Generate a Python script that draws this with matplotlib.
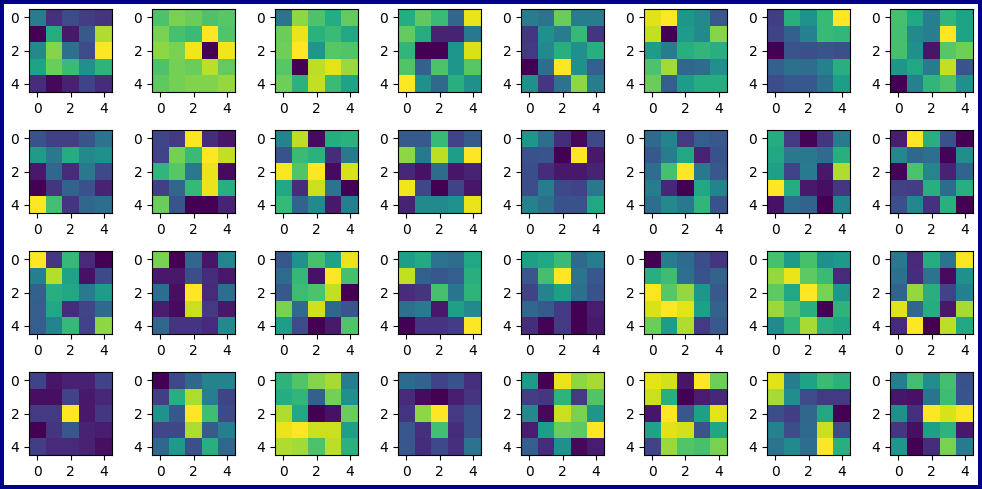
import numpy as np
import matplotlib
matplotlib.use("Agg")
import matplotlib.pyplot as plt

# 각 행: 5x5 패널 8개 (값은 그림에서 읽은 추정치)
row_1 = [
    [[.42,.14,.23,.18,.15],[0,.62,.07,.28,.88],[.47,.82,.37,.23,1],[.58,.77,.68,.5,.65],[.13,.02,.09,.2,.13]],
    [[.72,.8,.77,.72,.74],[.8,.71,.68,1,.73],[.83,.8,.98,0,.98],[.72,.79,.77,.9,.76],[.75,.79,.81,.81,.84]],
    [[.38,.83,.72,.62,.76],[.77,.97,.64,.68,.6],[.78,1,.53,.74,.73],[.74,0,.9,.96,.85],[.78,.64,.91,.68,.58]],
    [[.62,.75,.68,.33,.97],[.76,.62,.1,.1,.4],[.66,0,0,.52,.94],[.73,.31,.72,.53,.74],[1,.5,.34,.63,.5]],
    [[.42,.38,.77,.42,.42],[.16,.5,.42,.67,.15],[.17,.47,.63,.5,.63],[0,.36,1,.5,.3],[.5,.16,.38,.83,.42]],
    [[.95,1,.53,.47,.27],[.91,0,.55,.48,.82],[.55,.42,.63,.66,.63],[.72,.86,.33,.35,.5],[.77,.3,.55,.62,.62]],
    [[.18,.62,.5,.66,.98],[.2,.3,.43,.66,.65],[0,.25,.24,.25,.24],[.3,.36,.35,.43,.62],[.23,.27,.27,.36,.55]],
    [[.71,.6,.43,.66,.58],[.7,.47,.43,1,.58],[.71,.5,.06,.74,.78],[.53,.6,.41,.91,.26],[0,.44,.66,.72,.5]],
]
row_2 = [
    [[.25,.19,.19,.26,.38],[.55,.4,.62,.47,.5],[.07,.33,.12,.4,.22],[0,.15,.32,.25,.1],[1,.7,.15,.33,.36]],
    [[.21,.17,.99,.13,.06],[.2,.79,.68,1,.91],[.66,.74,.4,.97,.03],[.19,.33,.67,.97,.63],[.77,.26,0,0,.1]],
    [[.45,.9,.03,.62,.64],[.25,.68,.64,.13,.4],[.99,.73,1,.03,.94],[.6,.13,.92,.38,0],[.67,.32,.47,.07,.43]],
    [[.28,.28,.67,.2,.28],[.82,.4,.89,.55,.99],[.11,.05,.35,.06,.1],[.97,.21,0,.2,.06],[.1,.47,.47,.5,.96]],
    [[.53,.36,.13,.02,.22],[.25,.26,0,1,.07],[.24,.13,.07,.07,.1],[.24,.42,.22,.2,.4],[.44,.37,.25,.25,.6]],
    [[.34,.45,.17,.3,.27],[.27,.42,.6,.1,.25],[.36,.71,1,.4,.27],[.42,.11,0,.6,.45],[.36,.47,.4,.66,.25]],
    [[.62,.17,.01,.15,.41],[.6,.4,.4,.35,.63],[.57,.2,.41,.07,.88],[1,.62,.07,.04,.16],[.05,.35,.32,0,.45]],
    [[.09,1,.63,.26,.01],[.47,.34,.37,.02,.5],[.02,.72,.46,.11,.33],[.2,.19,.63,.36,.63],[.25,.47,.15,.64,.01]],
]
row_3 = [
    [[1,.16,.67,.12,0],[.43,.89,.58,.05,.22],[.31,.63,.6,.41,.55],[.3,.6,.13,.21,.34],[.3,.45,.67,.2,.83]],
    [[.8,0,.33,.06,.46],[.07,.07,.24,.13,.07],[.36,.04,1,.12,.36],[.08,.03,.92,.17,.07],[.33,.15,.15,.12,.47]],
    [[.27,.5,.7,.57,.96],[.35,.66,.05,.99,.7],[.27,.68,.71,.9,0],[.79,.34,.92,.33,.26],[.55,.23,0,.07,.72]],
    [[.56,.61,.38,.36,.6],[.91,.31,.27,.3,.63],[.13,.15,.71,.39,.65],[.37,.41,.07,.57,.47],[0,.15,.15,.18,1]],
    [[.57,.6,.68,.34,.42],[.27,.7,1,.38,.27],[.2,.45,.57,.37,.25],[.33,.28,.17,0,.08],[.13,.01,.17,0,.07]],
    [[0,.42,.35,.24,.15],[.63,.69,.37,.25,.32],[.99,.74,.84,.52,.28],[.94,1,.96,.57,.32],[.77,.55,.88,.17,.28]],
    [[.71,.55,.71,.5,.54],[.84,.97,.75,.68,.12],[.75,.6,1,.8,.53],[.85,.73,.63,0,.65],[.47,.66,.87,.63,.59]],
    [[.4,.12,.62,.38,.99],[.37,.13,.38,.03,.5],[.32,.84,.63,.2,.43],[.95,.33,.62,.07,.87],[.12,1,0,.9,.6]],
]
row_4 = [
    [[.2,.06,.09,.09,.2],[.04,.04,.2,.07,.11],[.17,.17,1,.07,.16],[0,.15,.27,.1,.08],[.18,.12,.12,.1,.04]],
    [[0,.22,.33,.44,.44],[.18,.62,.86,.42,.2],[.5,.27,.98,.68,.22],[.21,.21,.86,.29,.42],[.33,.53,.24,.62,.33]],
    [[.65,.73,.82,.87,.42],[.62,.66,.31,.79,.5],[.88,.6,0,.05,.77],[.97,1,.92,.92,.57],[.88,.86,.72,.9,.64]],
    [[.35,.32,.2,.25,.14],[.12,.03,0,.08,.15],[.15,.83,1,.17,.25],[.27,.14,.7,.13,.25],[.27,.13,.22,.14,.38]],
    [[.55,0,.97,.83,.87],[.18,.16,.65,.17,.73],[.47,.02,.92,.8,.52],[.08,.56,.77,.75,1],[.3,.12,.5,.02,.08]],
    [[.96,.93,.06,1,.78],[.92,.63,0,.08,.11],[.06,1,.27,.57,.96],[.58,.95,.93,.26,.59],[.2,.85,.73,.71,.8]],
    [[.95,.42,.58,.68,.64],[.87,.49,.23,.17,.17],[.24,.18,.33,.6,0],[.44,.24,.34,.92,.23],[.38,.47,.36,1,.63]],
    [[.43,.7,.49,.7,.25],[.06,.05,.39,.69,.26],[.5,.14,1,.94,.99],[.16,.04,.57,.65,.07],[.52,0,.13,.8,.41]],
]
rows = [row_1, row_2, row_3, row_4]

W, H = 982, 489
# 4.89*100 이 488 로 내림되는 것 방지
fig, axes = plt.subplots(4, 8, figsize=(W / 100, (H + 0.2) / 100), dpi=100,
                         facecolor="white", edgecolor="darkblue", linewidth=5.4)
fig.subplots_adjust(left=29 / W, right=973 / W, top=1 - 9.3 / H, bottom=1 - 455 / H,
                    wspace=40 / 83, hspace=38.3 / 83)

for r, row in enumerate(rows):
    for c, panel in enumerate(row):
        ax = axes[r, c]
        ax.imshow(np.array(panel), cmap="viridis")
        ax.set_xticks([0, 2, 4])
        ax.set_yticks([0, 2, 4])

fig.savefig("out.png", dpi=100, facecolor=fig.get_facecolor(), edgecolor=fig.get_edgecolor())
